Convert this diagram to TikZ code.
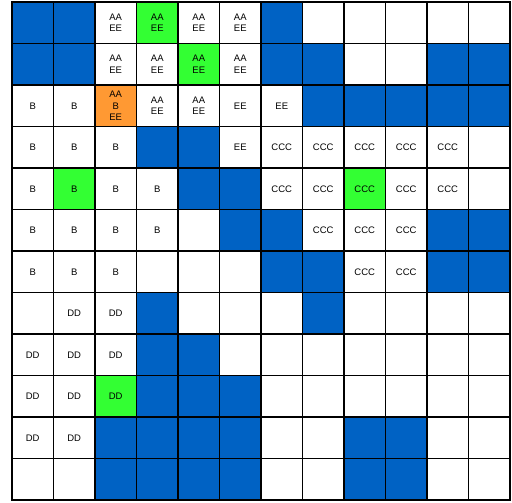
\documentclass[tikz,border=0pt]{standalone}
\usepackage{fontspec}
\setmainfont{Liberation Sans}
\usepackage{tikz}
\usepackage{xcolor}
\definecolor{wallblue}{HTML}{0062C4}
\definecolor{goalgreen}{HTML}{33FF33}
\definecolor{startorange}{HTML}{FF9933}
\tikzset{
  celltext/.code={\def\celltext{#1}},
  cell/.style={
    rectangle, draw=black, fill=white, minimum size=1cm, inner sep=0pt,
    line width=1pt, align=center, font=\fontsize{6.5}{8}\selectfont,
    celltext={}
  },
  c-w/.style={cell, fill=wallblue},
  c-o/.style={cell},
  c-ae/.style={cell, celltext={AA\\EE}},
  c-Gae/.style={c-ae, fill=goalgreen},
  c-abe/.style={cell, fill=startorange, celltext={AA\\B\\EE}},
  c-ee/.style={cell, celltext={EE}},
  c-bb/.style={cell, celltext={B}},
  c-Gbb/.style={c-bb, fill=goalgreen},
  c-ccc/.style={cell, celltext={CCC}},
  c-Gccc/.style={c-ccc, fill=goalgreen},
  c-dd/.style={cell, celltext={DD}},
  c-Gdd/.style={c-dd, fill=goalgreen},
}

\begin{document}
\begin{tikzpicture}

\useasboundingbox[fill=white] (-0.289,0.048) rectangle (12.048,-12.048);

% grid, one row per line
\foreach \cells [count=\r from 0] in {
  {w,w,ae,Gae,ae,ae,w,o,o,o,o,o},
  {w,w,ae,ae,Gae,ae,w,w,o,o,w,w},
  {bb,bb,abe,ae,ae,ee,ee,w,w,w,w,w},
  {bb,bb,bb,w,w,ee,ccc,ccc,ccc,ccc,ccc,o},
  {bb,Gbb,bb,bb,w,w,ccc,ccc,Gccc,ccc,ccc,o},
  {bb,bb,bb,bb,o,w,w,ccc,ccc,ccc,w,w},
  {bb,bb,bb,o,o,o,w,w,ccc,ccc,w,w},
  {o,dd,dd,w,o,o,o,w,o,o,o,o},
  {dd,dd,dd,w,w,o,o,o,o,o,o,o},
  {dd,dd,Gdd,w,w,w,o,o,o,o,o,o},
  {dd,dd,w,w,w,w,o,o,w,w,o,o},
  {o,o,w,w,w,w,o,o,w,w,o,o}%
}{
  \foreach \code [count=\k from 0] in \cells {
    \node[c-\code] (cell-\r-\k) at (\k+0.5,-\r-0.5) {\celltext};
  }
}

\end{tikzpicture}
\end{document}
